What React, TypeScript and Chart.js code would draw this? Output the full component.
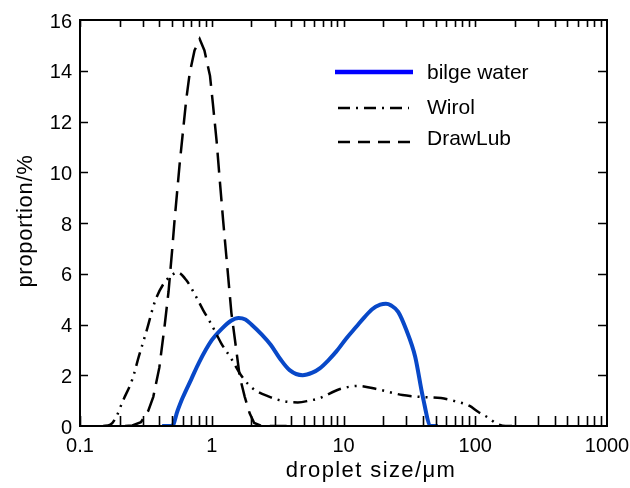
import { useEffect, useRef } from 'react';
import { Chart, registerables } from 'chart.js';

Chart.register(...registerables);

const FONT = '"Liberation Sans", Arial, Helvetica, sans-serif';

// ---- data ----
const seriesNames = ['bilge water', 'Wirol', 'DrawLub'];

const bilgeX = [0.42, 0.5, 0.55, 0.6, 0.7, 0.8, 1.0, 1.2, 1.4, 1.6, 1.8, 2.0, 2.4, 2.8, 3.3, 3.9, 4.9, 5.8, 6.6, 7.7, 8.8, 10.5, 12.5, 14.5, 16.5, 19, 21, 23, 26, 30, 35, 40, 46, 52];
const bilgeY = [0, 0, 0.6, 1.1, 1.85, 2.5, 3.38, 3.85, 4.15, 4.26, 4.2, 4.0, 3.6, 3.2, 2.65, 2.2, 2.0, 2.1, 2.27, 2.6, 2.93, 3.45, 3.91, 4.3, 4.6, 4.78, 4.82, 4.75, 4.5, 3.78, 2.73, 1.15, 0, 0];

const wirolX = [0.15, 0.17, 0.19, 0.21, 0.25, 0.28, 0.32, 0.37, 0.43, 0.5, 0.55, 0.64, 0.76, 0.86, 1.0, 1.18, 1.4, 1.7, 2.05, 2.75, 3.5, 4.5, 5.5, 6.6, 9.3, 13, 18, 28, 38, 55, 70, 90, 105, 125, 145, 170, 190];
const wirolY = [0, 0.05, 0.4, 0.95, 1.85, 2.75, 3.75, 4.9, 5.6, 5.95, 6.05, 5.75, 5.1, 4.57, 3.98, 3.26, 2.67, 1.94, 1.48, 1.15, 0.98, 0.93, 1.0, 1.1, 1.45, 1.58, 1.45, 1.22, 1.15, 1.1, 0.98, 0.8, 0.56, 0.33, 0.1, 0, 0];

const drawX = [0.22, 0.25, 0.29, 0.33, 0.36, 0.4, 0.44, 0.47, 0.5, 0.52, 0.57, 0.61, 0.64, 0.68, 0.74, 0.81, 0.88, 0.97, 1.02, 1.09, 1.15, 1.22, 1.29, 1.41, 1.5, 1.63, 1.78, 1.94, 2.1, 2.4, 3.7];
const drawY = [0, 0.02, 0.15, 0.6, 1.15, 2.3, 4.0, 5.3, 6.9, 8.0, 10.3, 11.8, 12.85, 13.9, 14.8, 15.25, 14.8, 13.8, 12.7, 11.2, 9.7, 8.1, 6.7, 4.45, 3.4, 1.95, 1.15, 0.5, 0.12, 0, 0];

const xDecades = [0.1, 1, 10, 100, 1000];
const xTickLabels = ['0.1', '1', '10', '100', '1000'];
const yMin = 0;
const yMax = 16;
const yStep = 2;

const xTitle = 'droplet size/\u03bcm';
const yTitle = 'proportion/%';

const pts = (xs: number[], ys: number[]) => xs.map((x, i) => ({ x, y: ys[i] }));

const PLOT_BLUE = 'rgb(8,72,200)';
const LEGEND_BLUE = 'rgb(0,0,255)';
const WIROL_DASH = [14, 6, 2, 6, 2, 6];
const DRAW_DASH = [20, 9];

const framePlugin = {
  id: 'frameTicksLegend',
  afterDatasetsDraw(chart: any) {
    const { ctx, chartArea: a, scales } = chart;
    const xs = scales.x;
    const ys = scales.y;
    ctx.save();
    ctx.strokeStyle = '#000';
    ctx.setLineDash([]);
    ctx.lineWidth = 2;
    ctx.strokeRect(a.left, a.top, a.right - a.left, a.bottom - a.top);

    ctx.lineWidth = 1.6;
    ctx.beginPath();
    for (let d = 0; d < xDecades.length - 1; d++) {
      for (let m = 1; m <= 9; m++) {
        const v = xDecades[d] * m;
        const px = Math.round(xs.getPixelForValue(v)) + 0.5;
        ctx.moveTo(px, a.bottom);
        ctx.lineTo(px, a.bottom - 10);
        ctx.moveTo(px, a.top);
        ctx.lineTo(px, a.top + 7);
      }
    }
    for (let v = yMin + yStep; v < yMax; v += yStep) {
      const py = Math.round(ys.getPixelForValue(v)) + 0.5;
      ctx.moveTo(a.left, py);
      ctx.lineTo(a.left + 8, py);
      ctx.moveTo(a.right, py);
      ctx.lineTo(a.right - 9, py);
    }
    ctx.stroke();

    // axis titles
    ctx.fillStyle = '#000';
    ctx.font = `22px ${FONT}`;
    ctx.textAlign = 'center';
    ctx.textBaseline = 'alphabetic';
    if ('letterSpacing' in ctx) (ctx as any).letterSpacing = '1.4px';
    ctx.fillText(xTitle, 371, 477);
    ctx.save();
    ctx.translate(32, (a.top + a.bottom) / 2 - 2);
    ctx.rotate(-Math.PI / 2);
    if ('letterSpacing' in ctx) (ctx as any).letterSpacing = '0.7px';
    ctx.fillText(yTitle, 0, 0);
    ctx.restore();
    if ('letterSpacing' in ctx) (ctx as any).letterSpacing = '0px';

    // legend
    const rows = [
      { color: LEGEND_BLUE, width: 4.5, dash: [] as number[], x0: 335, x1: 413, ly: 72, ty: 73 },
      { color: '#000', width: 2.5, dash: [12, 6, 2, 6], x0: 338, x1: 409, ly: 108, ty: 108 },
      { color: '#000', width: 2.5, dash: [12, 8], x0: 338, x1: 415, ly: 142, ty: 139 },
    ];
    rows.forEach((r, i) => {
      ctx.beginPath();
      ctx.strokeStyle = r.color;
      ctx.lineWidth = r.width;
      ctx.setLineDash(r.dash);
      ctx.moveTo(r.x0, r.ly);
      ctx.lineTo(r.x1, r.ly);
      ctx.stroke();
      ctx.setLineDash([]);
      ctx.fillStyle = '#000';
      ctx.font = `21px ${FONT}`;
      ctx.textAlign = 'left';
      ctx.textBaseline = 'middle';
      ctx.fillText(seriesNames[i], 427, r.ty);
    });
    ctx.restore();
  },
};

export default function App() {
  const ref = useRef<HTMLCanvasElement>(null);

  useEffect(() => {
    if (!ref.current) return;
    const chart = new Chart(ref.current, {
      type: 'line',
      data: {
        datasets: [
          {
            label: seriesNames[1],
            data: pts(wirolX, wirolY),
            borderColor: '#000',
            borderWidth: 2.5,
            borderDash: WIROL_DASH,
            pointRadius: 0,
            cubicInterpolationMode: 'monotone',
            fill: false,
          },
          {
            label: seriesNames[2],
            data: pts(drawX, drawY),
            borderColor: '#000',
            borderWidth: 2.5,
            borderDash: DRAW_DASH,
            pointRadius: 0,
            tension: 0,
            fill: false,
          },
          {
            label: seriesNames[0],
            data: pts(bilgeX, bilgeY),
            borderColor: PLOT_BLUE,
            borderWidth: 4,
            pointRadius: 0,
            cubicInterpolationMode: 'monotone',
            fill: false,
          },
        ],
      },
      options: {
        responsive: false,
        animation: false,
        parsing: false,
        normalized: true,
        layout: { padding: { left: 0, top: 20, right: 23, bottom: 0 } },
        plugins: {
          legend: { display: false },
          tooltip: { enabled: false },
        },
        scales: {
          x: {
            type: 'logarithmic',
            min: 0.1,
            max: 1000,
            grid: { display: false },
            border: { display: false },
            afterFit: (s: any) => {
              s.height = 62;
              s.paddingLeft = 0;
              s.paddingRight = 0;
            },
            ticks: {
              autoSkip: false,
              maxRotation: 0,
              minRotation: 0,
              padding: 0,
              color: '#000',
              font: { family: FONT, size: 20 },
              callback: (value: any) => {
                const v = Number(value);
                const idx = xDecades.findIndex((d) => Math.abs(Math.log10(v) - Math.log10(d)) < 1e-6);
                return idx >= 0 ? xTickLabels[idx] : '';
              },
            },
          },
          y: {
            type: 'linear',
            min: yMin,
            max: yMax,
            grid: { display: false },
            border: { display: false },
            afterFit: (s: any) => {
              s.width = 80;
              s.paddingTop = 0;
              s.paddingBottom = 0;
            },
            ticks: {
              stepSize: yStep,
              padding: 0,
              labelOffset: 2,
              color: '#000',
              font: { family: FONT, size: 20 },
            },
          },
        },
      },
      plugins: [framePlugin],
    } as any);
    return () => chart.destroy();
  }, []);

  return (
    <canvas
      ref={ref}
      width={630}
      height={488}
      style={{ position: 'absolute', left: 0, top: 0, width: 630, height: 488 }}
    />
  );
}
